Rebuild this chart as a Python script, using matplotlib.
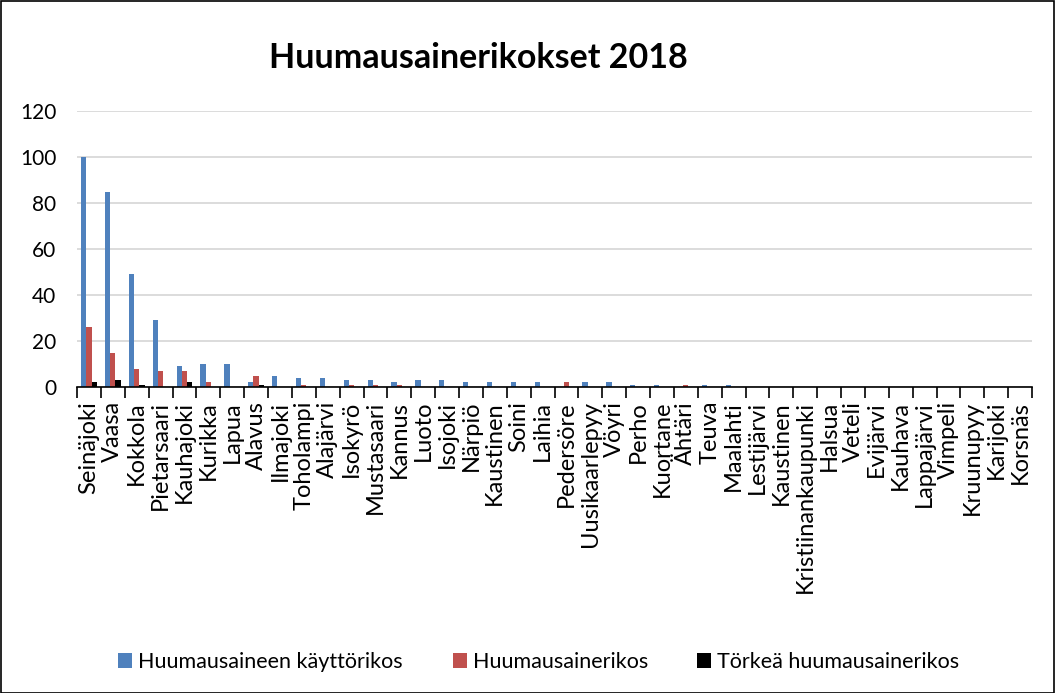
import matplotlib
matplotlib.use("Agg")
import matplotlib.pyplot as plt
import numpy as np
from matplotlib.patches import Rectangle

plt.rcParams['font.family'] = ['Lato', 'DejaVu Sans']

categories = ["Seinäjoki", "Vaasa", "Kokkola", "Pietarsaari", "Kauhajoki", "Kurikka",
              "Lapua", "Alavus", "Ilmajoki", "Toholampi", "Alajärvi", "Isokyrö",
              "Mustasaari", "Kannus", "Luoto", "Isojoki", "Närpiö", "Kaustinen",
              "Soini", "Laihia", "Pedersöre", "Uusikaarlepyy", "Vöyri", "Perho",
              "Kuortane", "Ähtäri", "Teuva", "Maalahti", "Lestijärvi", "Kaustinen",
              "Kristiinankaupunki", "Halsua", "Veteli", "Evijärvi", "Kauhava",
              "Lappajärvi", "Vimpeli", "Kruunupyy", "Karijoki", "Korsnäs"]

kaytto = [100, 85, 49, 29, 9, 10, 10, 2, 5, 4, 4, 3, 3, 2, 3, 3, 2, 2, 2, 2,
          0, 2, 2, 1, 1, 0, 1, 1, 0, 0, 0, 0, 0, 0, 0, 0, 0, 0, 0, 0]
rikos = [26, 15, 8, 7, 7, 2, 0, 5, 0, 1, 0, 1, 1, 1, 0, 0, 0, 0, 0, 0,
         2, 0, 0, 0, 0, 1, 0, 0, 0, 0, 0, 0, 0, 0, 0, 0, 0, 0, 0, 0]
torkea = [2, 3, 1, 0, 2, 0, 0, 1, 0, 0, 0, 0, 0, 0, 0, 0, 0, 0, 0, 0,
          0, 0, 0, 0, 0, 0, 0, 0, 0, 0, 0, 0, 0, 0, 0, 0, 0, 0, 0, 0]

series_names = ["Huumausaineen käyttörikos", "Huumausainerikos", "Törkeä huumausainerikos"]
colors = ["#4F81BD", "#C0504D", "#000000"]

W, H = 1055, 693
fig = plt.figure(figsize=(W / 100, H / 100), dpi=100)
ax = fig.add_axes([77 / W, 1 - 387 / H, (1032 - 77) / W, (387 - 111) / H])

x = np.arange(len(categories))
bw = 0.22
bars = []
for i, (vals, name, c) in enumerate(zip([kaytto, rikos, torkea], series_names, colors)):
    b = ax.bar(x + (i - 1) * bw, vals, width=bw, color=c, label=name, zorder=3)
    bars.append(b)

ax.set_xlim(-0.5, len(categories) - 0.5)
ax.set_ylim(0, 120)
ax.set_yticks(range(0, 121, 20))
ax.yaxis.grid(True, color="#D9D9D9", linewidth=1.3, zorder=0)
ax.set_axisbelow(True)
for s in ["top", "right", "left"]:
    ax.spines[s].set_visible(False)
ax.spines["bottom"].set_color("#000000")
ax.spines["bottom"].set_linewidth(1.2)
ax.spines["bottom"].set_zorder(4)

ax.set_xticks(x)
ax.set_xticklabels(categories, rotation=90, fontsize=17)
ax.set_xticks(np.arange(-0.5, len(categories), 1), minor=True)
ax.tick_params(axis="x", which="major", length=0, pad=10)
ax.tick_params(axis="x", which="minor", length=8, width=1.2, color="#000000")
ax.tick_params(axis="y", length=0, labelsize=15, pad=15)

fig.text(478 / W, 1 - 58 / H, "Huumausainerikokset 2018", fontsize=24.5, fontweight="bold",
         ha="center", va="center")

legend_x = [118, 453, 697]
for b, name, lx in zip(bars, series_names, legend_x):
    fig.legend(handles=[b], labels=[name], loc="center left",
               bbox_to_anchor=(lx / W, 1 - 662 / H), frameon=False,
               fontsize=15.5, handlelength=0.65, handleheight=0.65, handletextpad=0.3,
               borderpad=0, borderaxespad=0)

fig.patches.append(Rectangle((0.5 / W, 0.5 / H), 1 - 1.5 / W, 1 - 1.5 / H, transform=fig.transFigure,
                             fill=False, edgecolor="#000000", linewidth=1.2))

fig.savefig("out.png", dpi=100)
